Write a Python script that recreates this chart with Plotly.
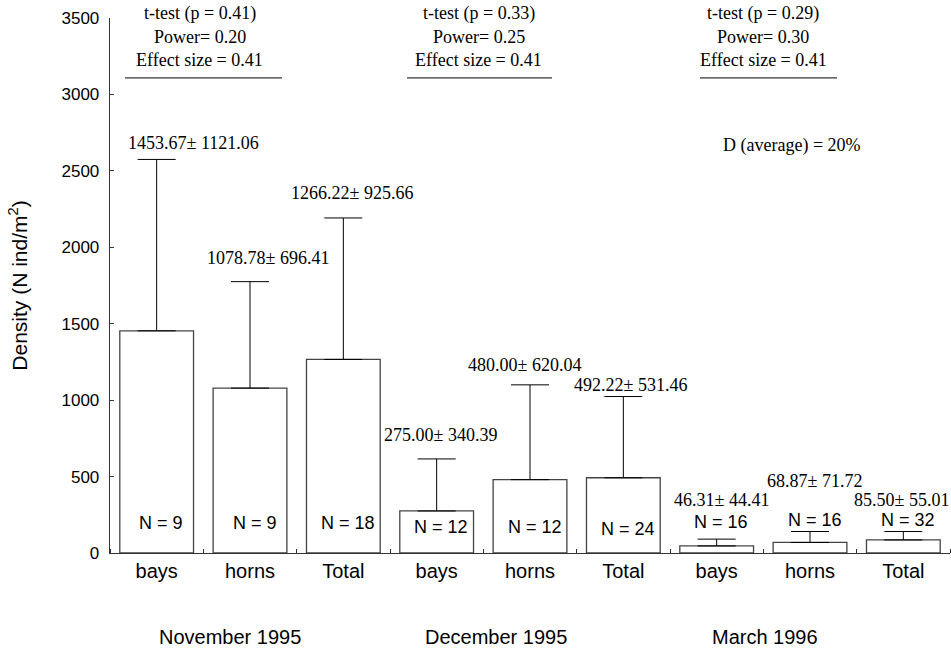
import plotly.graph_objects as go

# ---- data ----
categories = ["bays", "horns", "Total", "bays", "horns", "Total", "bays", "horns", "Total"]
months = ["November 1995", "December 1995", "March 1996"]
means = [1453.67, 1078.78, 1266.22, 275.00, 480.00, 492.22, 46.31, 68.87, 85.50]
sds = [1121.06, 696.41, 925.66, 340.39, 620.04, 531.46, 44.41, 71.72, 55.01]
ns = [9, 9, 18, 12, 12, 24, 16, 16, 32]
p_values = [0.41, 0.33, 0.29]
powers = [0.20, 0.25, 0.30]
effect_sizes = [0.41, 0.41, 0.41]
d_average = 20
y_ticks = [0, 500, 1000, 1500, 2000, 2500, 3000, 3500]

# ---- label placement (layout only) ----
xpos = list(range(len(categories)))
label_x = [0.395, 1.193, 2.093, 3.046, 3.941, 5.082, 6.052, 7.043, 7.980]
label_y = [2682, 1930, 2355, 772, 1230, 1099, 346, 472, 346]
n_x = [x + 0.05 for x in xpos]
n_y = [196, 196, 196, 172, 168, 155, 205, 214, 214]
month_x = [0.786, 3.641, 6.518]
stat_x = [0.46, 3.45, 6.50]
underline_x = [(-0.339, 1.343), (2.682, 4.236), (5.822, 7.29)]

fig = go.Figure()
fig.add_trace(go.Bar(
    x=xpos, y=means, width=0.79,
    marker=dict(color="white", line=dict(color="#444444", width=1.3)),
    error_y=dict(type="data", symmetric=False, array=sds,
                 arrayminus=[0] * len(sds), color="black",
                 thickness=1, width=19),
    showlegend=False, hoverinfo="skip",
))

serif = "Liberation Serif"
sans = "Liberation Sans, Arial"
ann = []
for i in xpos:
    ann.append(dict(x=label_x[i], y=label_y[i], xref="x", yref="y",
                    text=f"{means[i]:.2f}± {sds[i]:.2f}", showarrow=False,
                    font=dict(family=serif, size=18, color="black")))
    ann.append(dict(x=n_x[i], y=n_y[i], xref="x", yref="y",
                    text=f"N = {ns[i]}", showarrow=False,
                    font=dict(family=sans, size=18, color="black")))

shapes = []
for k in range(3):
    lines = [f"t-test (p = {p_values[k]:.2f})",
             f"Power= {powers[k]:.2f}",
             f"Effect size = {effect_sizes[k]:.2f}"]
    for j, (t, yp) in enumerate(zip(lines, [1.0088, 0.965, 0.9215])):
        ann.append(dict(x=stat_x[k], y=yp, xref="x", yref="paper",
                        text=t, showarrow=False, yanchor="middle",
                        font=dict(family=serif, size=18, color="black")))
    shapes.append(dict(type="line", xref="x", yref="paper",
                       x0=underline_x[k][0], x1=underline_x[k][1],
                       y0=0.888, y1=0.888,
                       line=dict(color="black", width=1)))
    ann.append(dict(x=month_x[k], y=-0.157, xref="x", yref="paper",
                    text=months[k], showarrow=False, yanchor="middle",
                    font=dict(family=sans, size=20, color="black")))

ann.append(dict(x=6.81, y=0.761, xref="x", yref="paper",
                text=f"D (average) = {d_average}%", showarrow=False,
                yanchor="middle",
                font=dict(family=serif, size=18, color="black")))

fig.update_layout(
    width=951, height=648,
    margin=dict(l=110, r=1, t=18, b=95),
    plot_bgcolor="white", paper_bgcolor="white",
    annotations=ann, shapes=shapes,
    xaxis=dict(range=[-0.5, 8.5], tickmode="array", tickvals=xpos,
               ticktext=categories, ticks="", showgrid=False, zeroline=False,
               automargin=False,
               showline=True, linecolor="#333333", linewidth=1.3,
               tickfont=dict(family=sans, size=20, color="black"),
               minor=dict(tickmode="linear", tick0=-0.5, dtick=1,
                          ticks="inside", ticklen=4, tickcolor="#333333",
                          showgrid=False)),
    yaxis=dict(range=[0, 3500], tickmode="array", tickvals=y_ticks,
               ticks="inside", ticklen=4, tickcolor="#333333",
               showgrid=False, zeroline=False, showline=True,
               automargin=False,
               linecolor="#333333", linewidth=1.3,
               ticklabelstandoff=6,
               tickfont=dict(family=sans, size=17, color="black"),
               title=dict(text="Density (N ind/m<sup>2</sup>)", standoff=28,
                          font=dict(family=sans, size=21, color="black"))),
)

fig.write_html("out.html",
               config={"displayModeBar": False, "staticPlot": True},
               post_script="document.body.style.margin='0';"
                           "document.documentElement.style.overflow='hidden';")
